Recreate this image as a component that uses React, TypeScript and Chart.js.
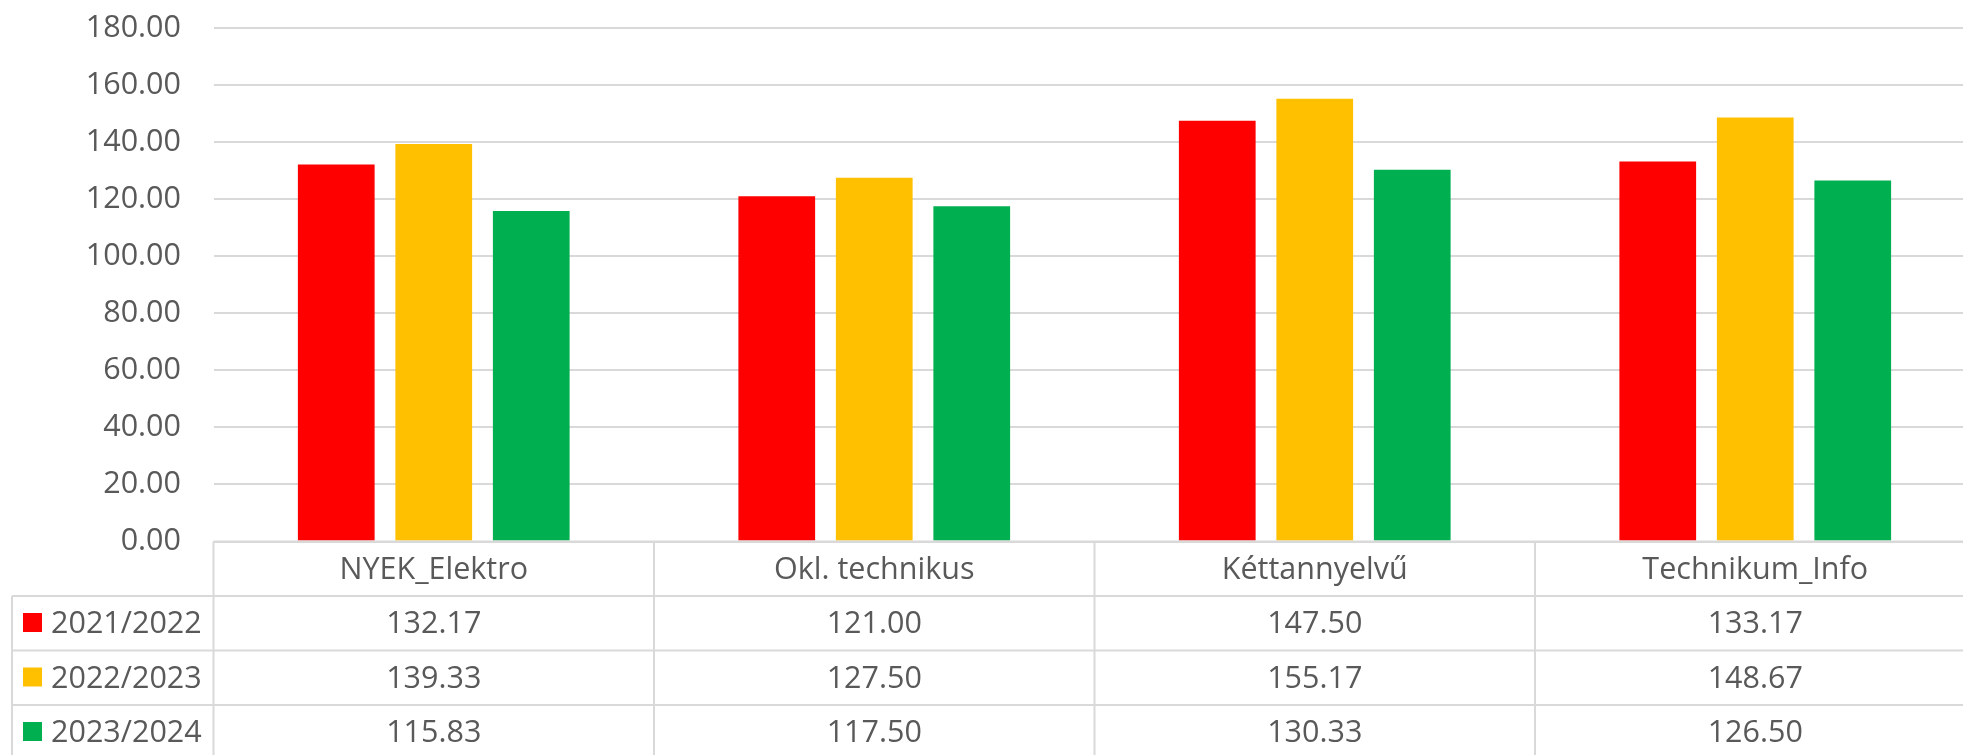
import React, { useEffect, useRef } from "react";
import { Chart, registerables } from "chart.js";

Chart.register(...registerables);

const categories = ["NYEK_Elektro", "Okl. technikus", "Kéttannyelvű", "Technikum_Info"];
const seriesNames = ["2021/2022", "2022/2023", "2023/2024"];
const values2021 = [132.17, 121.0, 147.5, 133.17];
const values2022 = [139.33, 127.5, 155.17, 148.67];
const values2023 = [115.83, 117.5, 130.33, 126.5];
const seriesColors = ["#FF0000", "#FFC000", "#00B050"];
const yMin = 0;
const yMax = 180;
const yStep = 20;

const FONT = "'Open Sans', 'Liberation Sans', sans-serif";
const FONT_SIZE = 30.5;
const TEXT_COLOR = "#595959";
const LINE_COLOR = "#D9D9D9";

const tablePlugin = {
  id: "dataTable",
  afterDraw(chart: any) {
    const ctx = chart.ctx as CanvasRenderingContext2D;
    const area = chart.chartArea;
    const xs = chart.scales.x;
    const n = categories.length;
    const colW = (area.right - area.left) / n;
    const top = area.bottom;
    const rowH = 54.5;
    const tableLeft = 12;
    const bottom = chart.height + 10;
    const seriesValues = chart.data.datasets.map((d: any) => d.data as number[]);

    ctx.save();
    ctx.strokeStyle = LINE_COLOR;
    ctx.lineWidth = 2;
    ctx.beginPath();
    ctx.moveTo(area.left, top);
    ctx.lineTo(area.right, top);
    for (let r = 1; r <= seriesNames.length + 1; r++) {
      const y = top + r * rowH;
      ctx.moveTo(tableLeft, y);
      ctx.lineTo(area.right, y);
    }
    for (let c = 0; c <= n; c++) {
      const x = area.left + c * colW;
      ctx.moveTo(x, top);
      ctx.lineTo(x, bottom);
    }
    ctx.moveTo(tableLeft, top + rowH);
    ctx.lineTo(tableLeft, bottom);
    ctx.stroke();

    ctx.fillStyle = TEXT_COLOR;
    ctx.font = `${FONT_SIZE}px ${FONT}`;
    ctx.textBaseline = "alphabetic";
    ctx.textAlign = "center";
    for (let c = 0; c < n; c++) {
      const cx = xs.getPixelForValue(c);
      ctx.fillText(categories[c], cx, top + 37);
      for (let s = 0; s < seriesNames.length; s++) {
        const v = seriesValues[s][c];
        ctx.fillText(v.toFixed(2), cx, top + (s + 1) * rowH + 37);
      }
    }
    ctx.textAlign = "left";
    for (let s = 0; s < seriesNames.length; s++) {
      const rt = top + (s + 1) * rowH;
      ctx.fillStyle = seriesColors[s];
      ctx.fillRect(23, rt + 17, 19, 19);
      ctx.fillStyle = TEXT_COLOR;
      ctx.fillText(seriesNames[s], 51, rt + 37);
    }
    ctx.restore();
  },
};

export default function App() {
  const ref = useRef<HTMLCanvasElement | null>(null);

  useEffect(() => {
    if (!ref.current) return;
    const allValues = [values2021, values2022, values2023];
    const chart = new Chart(ref.current, {
      type: "bar",
      data: {
        labels: categories,
        datasets: seriesNames.map((name, i) => ({
          label: name,
          data: allValues[i],
          backgroundColor: seriesColors[i],
          borderWidth: 0,
          categoryPercentage: 0.664,
          barPercentage: 0.787,
        })),
      },
      options: {
        animation: false,
        responsive: false,
        maintainAspectRatio: false,
        layout: { padding: { top: 28, bottom: 213.5, left: 0, right: 14.5 } },
        plugins: {
          legend: { display: false },
          tooltip: { enabled: false },
        },
        scales: {
          x: { display: false },
          y: {
            min: yMin,
            max: yMax,
            border: { display: false },
            grid: { color: LINE_COLOR, lineWidth: 2, drawTicks: false },
            ticks: {
              stepSize: yStep,
              padding: 32.5,
              color: TEXT_COLOR,
              font: { family: FONT, size: FONT_SIZE },
              callback: (v: any) => Number(v).toFixed(2),
            },
            afterFit: (scale: any) => {
              scale.width = 213.5;
              scale.paddingTop = 0;
              scale.paddingBottom = 0;
            },
          },
        },
      },
      plugins: [tablePlugin],
    });
    return () => chart.destroy();
  }, []);

  return (
    <div
      style={{
        position: "fixed",
        left: 0,
        top: 0,
        width: 1963,
        height: 755,
        overflow: "hidden",
        background: "#ffffff",
      }}
    >
      <canvas ref={ref} width={1990} height={755} style={{ display: "block" }} />
    </div>
  );
}
